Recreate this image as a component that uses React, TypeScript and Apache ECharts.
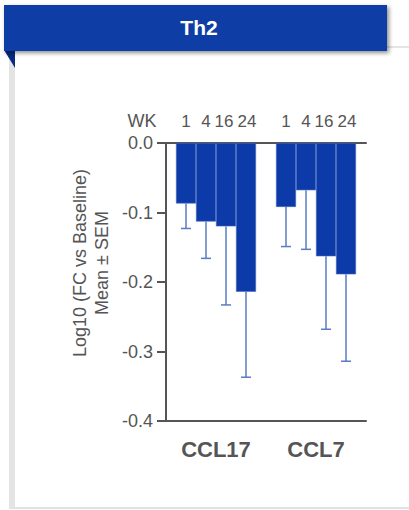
import React, { useEffect, useRef } from "react";
import * as echarts from "echarts";

const categories = ["CCL17", "CCL7"];
const weeks = ["1", "4", "16", "24"];
const wk1Mean = [-0.087, -0.092];
const wk4Mean = [-0.113, -0.068];
const wk16Mean = [-0.12, -0.163];
const wk24Mean = [-0.214, -0.189];
const wk1Sem = [0.036, 0.057];
const wk4Sem = [0.053, 0.085];
const wk16Sem = [0.113, 0.105];
const wk24Sem = [0.123, 0.125];
const yTicks = [-0.4, -0.3, -0.2, -0.1, 0.0];

const means = [wk1Mean, wk4Mean, wk16Mean, wk24Mean];
const sems = [wk1Sem, wk4Sem, wk16Sem, wk24Sem];

const FONT = "'Liberation Sans', Arial, sans-serif";
const TEXT = "#555555";
const BAR = "#0c3aa8";
const ERR = "#5a7cc0";
const BAR_W = 20;
const LABEL_SHIFT = [0, 0, -2, 1];

export default function App() {
  const ref = useRef<HTMLDivElement>(null);
  useEffect(() => {
    if (!ref.current) return;
    const chart = echarts.init(ref.current, null, { renderer: "svg" });
    const errData: number[][] = [];
    categories.forEach((_, c) => {
      weeks.forEach((_, w) => {
        errData.push([c, w, means[w][c], means[w][c] - sems[w][c]]);
      });
    });
    const option: any = {
      animation: false,
      backgroundColor: "#ffffff",
      grid: { left: 166, right: 43, top: 143, bottom: 89, containLabel: false },
      xAxis: [
        {
          type: "category",
          data: categories,
          position: "bottom",
          axisLine: { onZero: false, lineStyle: { color: TEXT, width: 2 } },
          axisTick: { show: false },
          axisLabel: { fontSize: 22, fontWeight: "bold", color: TEXT, margin: 17, fontFamily: FONT },
        },
        {
          type: "category",
          data: categories,
          position: "top",
          axisLine: { onZero: false, lineStyle: { color: TEXT, width: 2 } },
          axisTick: { show: false },
          axisLabel: { show: false },
        },
      ],
      yAxis: {
        type: "value",
        min: yTicks[0],
        max: yTicks[yTicks.length - 1],
        interval: 0.1,
        name: "Log10 (FC vs Baseline)\nMean ± SEM",
        nameLocation: "middle",
        nameRotate: 90,
        nameGap: 53,
        nameTextStyle: { fontSize: 18, color: TEXT, fontFamily: FONT, lineHeight: 22, padding: [0, 0, 0, 38] },
        axisLine: { show: true, lineStyle: { color: TEXT, width: 2 } },
        axisTick: { show: true, length: 9, lineStyle: { color: TEXT, width: 2 } },
        axisLabel: {
          fontSize: 18,
          color: TEXT,
          margin: 13,
          fontFamily: FONT,
          formatter: (v: number) => v.toFixed(1),
        },
        splitLine: { show: false },
      },
      graphic: [
        {
          type: "rect",
          shape: { x: 9, y: 58, width: 6, height: 450 },
          style: { fill: "#e4e4e4" },
          z: 1,
        },
        {
          type: "line",
          shape: { x1: 9, y1: 508, x2: 409, y2: 508 },
          style: { stroke: "#e2e2e2", lineWidth: 2 },
        },
        {
          type: "line",
          shape: { x1: 387, y1: 47, x2: 409, y2: 47 },
          style: { stroke: "#dddddd", lineWidth: 1.5 },
        },
        {
          type: "rect",
          shape: { x: 4, y: 5, width: 383, height: 46 },
          style: {
            fill: "#0b3ca5",
            shadowColor: "rgba(0,0,0,0.45)",
            shadowBlur: 4,
            shadowOffsetX: 2,
            shadowOffsetY: 2,
          },
          z: 5,
        },
        {
          type: "polygon",
          shape: { points: [[4, 50], [15, 50], [15, 68]] },
          style: { fill: "#072a82" },
          z: 4,
        },
        {
          type: "text",
          x: 199,
          y: 27,
          z: 6,
          style: {
            text: "Th2",
            fill: "#ffffff",
            font: `bold 21px ${FONT}`,
            textAlign: "center",
            textVerticalAlign: "middle",
            align: "center",
            verticalAlign: "middle",
          },
        },
        {
          type: "text",
          x: 142,
          y: 121,
          style: {
            text: "WK",
            fill: TEXT,
            font: `18px ${FONT}`,
            textAlign: "center",
            textVerticalAlign: "middle",
            align: "center",
            verticalAlign: "middle",
          },
        },
      ],
      series: [
        ...weeks.map((wk, w) => ({
          type: "bar",
          name: "WK " + wk,
          xAxisIndex: 0,
          data: means[w],
          barWidth: BAR_W,
          barGap: "0%",
          itemStyle: { color: BAR, borderColor: "#4468bd", borderWidth: 0.6 },
          z: 2,
        })),
        {
          type: "custom",
          xAxisIndex: 0,
          data: errData,
          encode: { x: 0, y: 2 },
          clip: false,
          z: 3,
          renderItem: (params: any, api: any) => {
            const c = api.value(0);
            const w = api.value(1);
            const m = api.value(2);
            const lo = api.value(3);
            const base = api.coord([c, 0]);
            const pm = api.coord([c, m]);
            const pl = api.coord([c, lo]);
            const x = base[0] + (w - (weeks.length - 1) / 2) * BAR_W;
            return {
              type: "group",
              children: [
                {
                  type: "line",
                  shape: { x1: x, y1: pm[1], x2: x, y2: pl[1] },
                  style: { stroke: ERR, lineWidth: 1.5 },
                },
                {
                  type: "line",
                  shape: { x1: x - 5, y1: pl[1], x2: x + 5, y2: pl[1] },
                  style: { stroke: ERR, lineWidth: 1.5 },
                },
                {
                  type: "text",
                  x: x + LABEL_SHIFT[w],
                  y: base[1] - 22,
                  style: {
                    text: weeks[w],
                    fill: TEXT,
                    font: `17px ${FONT}`,
                    textAlign: "center",
                    textVerticalAlign: "middle",
                    align: "center",
                    verticalAlign: "middle",
                  },
                },
              ],
            };
          },
        },
      ],
    };
    chart.setOption(option);
    return () => chart.dispose();
  }, []);
  return (
    <div
      ref={ref}
      style={{ position: "fixed", left: 0, top: 0, width: 409, height: 510, background: "#fff" }}
    />
  );
}
